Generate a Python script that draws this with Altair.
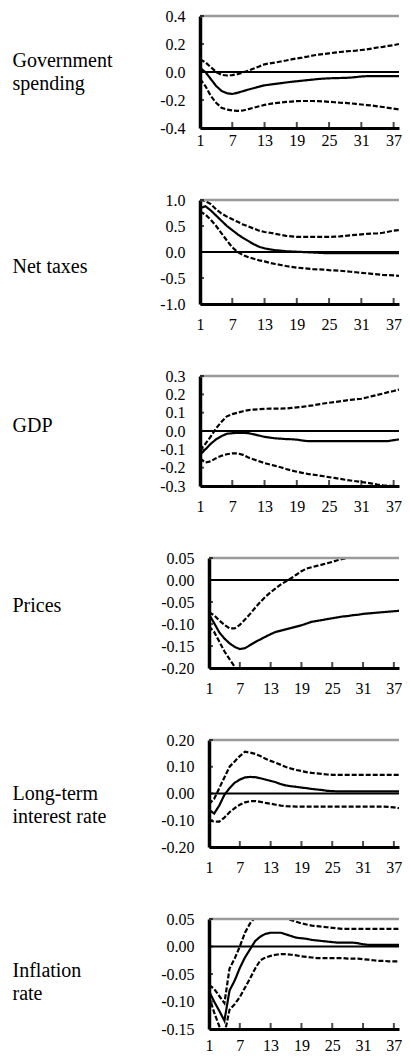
import altair as alt
import pandas as pd

FONT = "Liberation Serif, Times New Roman, Times, serif"

periods = list(range(1, 41))
x_ticks = [1, 7, 13, 19, 25, 31, 37]

# Government spending
gov_est = [0.03, 0.0, -0.05, -0.10, -0.135, -0.152, -0.157, -0.148, -0.137, -0.125,
           -0.115, -0.105, -0.095, -0.09, -0.085, -0.08, -0.075, -0.07, -0.066, -0.062,
           -0.058, -0.054, -0.05, -0.047, -0.045, -0.044, -0.043, -0.042, -0.04, -0.036,
           -0.032, -0.03, -0.03, -0.03, -0.03, -0.03, -0.03, -0.03, -0.03, -0.03]
gov_hi = [0.09, 0.07, 0.035, 0.0, -0.02, -0.025, -0.022, -0.015, -0.003, 0.01,
          0.025, 0.04, 0.055, 0.062, 0.068, 0.075, 0.082, 0.09, 0.097, 0.103,
          0.11, 0.118, 0.124, 0.128, 0.133, 0.138, 0.143, 0.147, 0.15, 0.153,
          0.157, 0.162, 0.168, 0.175, 0.18, 0.186, 0.192, 0.2, 0.21, 0.22]
gov_lo = [-0.05, -0.1, -0.17, -0.22, -0.255, -0.268, -0.275, -0.278, -0.275, -0.265,
          -0.255, -0.245, -0.235, -0.228, -0.222, -0.218, -0.214, -0.211, -0.208, -0.207,
          -0.207, -0.207, -0.208, -0.21, -0.213, -0.216, -0.219, -0.221, -0.224, -0.228,
          -0.232, -0.236, -0.24, -0.245, -0.25, -0.256, -0.262, -0.268, -0.275, -0.28]

# Net taxes
tax_est = [0.84, 0.88, 0.80, 0.70, 0.60, 0.50, 0.42, 0.34, 0.27, 0.21,
           0.15, 0.10, 0.07, 0.05, 0.035, 0.025, 0.015, 0.01, 0.005, 0.0,
           -0.005, -0.01, -0.015, -0.02, -0.02, -0.02, -0.02, -0.02, -0.02, -0.02,
           -0.02, -0.02, -0.02, -0.02, -0.02, -0.02, -0.02, -0.02, -0.02, -0.02]
tax_hi = [1.0, 0.98, 0.92, 0.82, 0.74, 0.68, 0.63, 0.58, 0.53, 0.49,
          0.45, 0.41, 0.385, 0.37, 0.35, 0.33, 0.31, 0.30, 0.29, 0.29,
          0.29, 0.29, 0.29, 0.29, 0.29, 0.295, 0.30, 0.31, 0.32, 0.33,
          0.34, 0.35, 0.355, 0.36, 0.37, 0.39, 0.41, 0.42, 0.43, 0.43]
tax_lo = [0.78, 0.72, 0.62, 0.50, 0.36, 0.22, 0.09, 0.0, -0.06, -0.10,
          -0.13, -0.16, -0.18, -0.21, -0.23, -0.25, -0.27, -0.285, -0.30, -0.31,
          -0.32, -0.33, -0.335, -0.34, -0.35, -0.355, -0.36, -0.37, -0.38, -0.39,
          -0.40, -0.41, -0.42, -0.43, -0.44, -0.445, -0.45, -0.46, -0.47, -0.48]

# GDP
gdp_est = [-0.13, -0.10, -0.07, -0.045, -0.028, -0.015, -0.012, -0.01, -0.01, -0.012,
           -0.018, -0.025, -0.032, -0.036, -0.04, -0.042, -0.044, -0.045, -0.047, -0.052,
           -0.055, -0.055, -0.055, -0.055, -0.055, -0.055, -0.055, -0.055, -0.055, -0.055,
           -0.055, -0.055, -0.055, -0.055, -0.055, -0.055, -0.05, -0.046, -0.045, -0.045]
gdp_hi = [-0.105, -0.07, -0.03, 0.015, 0.05, 0.08, 0.092, 0.1, 0.108, 0.114,
          0.117, 0.119, 0.121, 0.122, 0.122, 0.122, 0.123, 0.126, 0.129, 0.132,
          0.136, 0.14, 0.145, 0.15, 0.154, 0.158, 0.162, 0.166, 0.17, 0.173,
          0.176, 0.183, 0.19, 0.197, 0.204, 0.212, 0.218, 0.226, 0.236, 0.245]
gdp_lo = [-0.15, -0.172, -0.165, -0.148, -0.135, -0.127, -0.122, -0.122, -0.13, -0.145,
          -0.155, -0.165, -0.175, -0.183, -0.19, -0.198, -0.207, -0.215, -0.222, -0.228,
          -0.234, -0.238, -0.242, -0.247, -0.252, -0.256, -0.261, -0.266, -0.27, -0.274,
          -0.278, -0.282, -0.287, -0.292, -0.296, -0.299, -0.3, -0.3, -0.302, -0.305]

# Prices
prc_est = [-0.078, -0.098, -0.119, -0.133, -0.144, -0.152, -0.157, -0.155, -0.148, -0.141,
           -0.135, -0.129, -0.123, -0.118, -0.115, -0.112, -0.109, -0.106, -0.103, -0.099,
           -0.095, -0.093, -0.091, -0.089, -0.087, -0.085, -0.083, -0.082, -0.08, -0.079,
           -0.077, -0.076, -0.075, -0.074, -0.073, -0.072, -0.071, -0.07, -0.069, -0.069]
prc_hi = [-0.073, -0.08, -0.092, -0.102, -0.11, -0.11, -0.102, -0.09, -0.077, -0.063,
          -0.05, -0.038, -0.028, -0.019, -0.01, -0.003, 0.004, 0.012, 0.02, 0.026,
          0.029, 0.032, 0.035, 0.038, 0.041, 0.045, 0.048, 0.05, 0.051, 0.052,
          0.053, 0.054, 0.055, 0.056, 0.057, 0.058, 0.058, 0.059, 0.06, 0.06]
prc_lo = [-0.105, -0.118, -0.14, -0.162, -0.18, -0.197, -0.212, -0.222, -0.23, -0.235,
          -0.238, -0.24, -0.241, -0.242, -0.242, -0.243, -0.243, -0.244, -0.244, -0.245,
          -0.245, -0.246, -0.246, -0.247, -0.247, -0.248, -0.248, -0.249, -0.249, -0.25,
          -0.25, -0.251, -0.251, -0.252, -0.252, -0.253, -0.253, -0.254, -0.254, -0.255]

# Long-term interest rate
ltr_est = [-0.06, -0.075, -0.045, -0.005, 0.02, 0.04, 0.052, 0.06, 0.062, 0.061,
           0.057, 0.052, 0.047, 0.042, 0.035, 0.03, 0.027, 0.025, 0.022, 0.02,
           0.017, 0.015, 0.013, 0.01, 0.009, 0.008, 0.008, 0.008, 0.008, 0.008,
           0.008, 0.008, 0.008, 0.008, 0.008, 0.008, 0.008, 0.008, 0.008, 0.008]
ltr_hi = [-0.04, -0.02, 0.02, 0.06, 0.1, 0.12, 0.14, 0.156, 0.153, 0.148,
          0.14, 0.13, 0.122, 0.115, 0.107, 0.099, 0.093, 0.088, 0.084, 0.08,
          0.077, 0.075, 0.073, 0.071, 0.07, 0.07, 0.07, 0.07, 0.07, 0.07,
          0.07, 0.07, 0.07, 0.07, 0.07, 0.07, 0.07, 0.07, 0.07, 0.07]
ltr_lo = [-0.1, -0.105, -0.105, -0.09, -0.07, -0.055, -0.042, -0.033, -0.029, -0.028,
          -0.031, -0.035, -0.038, -0.042, -0.045, -0.047, -0.048, -0.049, -0.049, -0.049,
          -0.049, -0.049, -0.049, -0.049, -0.049, -0.049, -0.049, -0.049, -0.049, -0.049,
          -0.049, -0.049, -0.049, -0.049, -0.049, -0.05, -0.052, -0.055, -0.058, -0.06]

# Inflation rate
inf_est = [-0.081, -0.1, -0.117, -0.135, -0.08, -0.062, -0.039, -0.02, -0.005, 0.01,
           0.018, 0.023, 0.025, 0.025, 0.025, 0.022, 0.019, 0.016, 0.015, 0.014,
           0.012, 0.011, 0.01, 0.009, 0.008, 0.007, 0.007, 0.007, 0.007, 0.006,
           0.004, 0.003, 0.003, 0.003, 0.003, 0.003, 0.003, 0.003, 0.003, 0.003]
inf_hi = [-0.07, -0.077, -0.09, -0.103, -0.04, -0.022, 0.0, 0.025, 0.042, 0.053,
          0.058, 0.062, 0.064, 0.062, 0.058, 0.052, 0.048, 0.045, 0.042, 0.04,
          0.038, 0.037, 0.036, 0.035, 0.034, 0.033, 0.032, 0.032, 0.032, 0.032,
          0.032, 0.032, 0.032, 0.032, 0.032, 0.032, 0.032, 0.032, 0.032, 0.032]
inf_lo = [-0.09, -0.12, -0.145, -0.16, -0.115, -0.105, -0.092, -0.075, -0.058, -0.04,
          -0.025, -0.02, -0.017, -0.015, -0.014, -0.014, -0.015, -0.016, -0.018, -0.019,
          -0.02, -0.021, -0.021, -0.021, -0.021, -0.021, -0.021, -0.022, -0.022, -0.022,
          -0.023, -0.024, -0.025, -0.026, -0.026, -0.027, -0.027, -0.027, -0.028, -0.028]

labels = [["Government", "spending"], "Net taxes", "GDP", "Prices",
          ["Long-term", "interest rate"], ["Inflation", "rate"]]
series = [(gov_est, gov_lo, gov_hi), (tax_est, tax_lo, tax_hi), (gdp_est, gdp_lo, gdp_hi),
          (prc_est, prc_lo, prc_hi), (ltr_est, ltr_lo, ltr_hi), (inf_est, inf_lo, inf_hi)]
y_ticks = [[-0.4, -0.2, 0.0, 0.2, 0.4],
           [-1.0, -0.5, 0.0, 0.5, 1.0],
           [-0.3, -0.2, -0.1, 0.0, 0.1, 0.2, 0.3],
           [-0.20, -0.15, -0.10, -0.05, 0.0, 0.05],
           [-0.20, -0.10, 0.0, 0.10, 0.20],
           [-0.15, -0.10, -0.05, 0.0, 0.05]]
y_formats = [".1f", ".1f", ".1f", ".2f", ".2f", ".2f"]

# layout settings per panel
heights = [112, 104, 110, 110, 107, 110]
title_ys = [44, 66.7, 49, 47, 53, 51]
shifts = [0, 0, 0, 9, 9, 9]
x_pads = [4, 12, 12, 12, 12, 8]
X_MAX = 38
W = 199


def make_panel(i):
    est, lo, hi = series[i]
    yt = y_ticks[i]
    ymin, ymax = yt[0], yt[-1]
    shift = shifts[i]
    n = len(periods)
    df = pd.DataFrame({
        "period": periods * 3,
        "value": est + lo + hi,
        "series": ["est"] * n + ["lo"] * n + ["hi"] * n,
    })
    df = df[df.period <= X_MAX]
    xs = alt.Scale(domain=[1, X_MAX], range=[shift, W], nice=False, zero=False)
    ys = alt.Scale(domain=[ymin, ymax], nice=False, zero=False)
    fmt = y_formats[i]
    y_axis = alt.Axis(
        values=yt,
        labelExpr=f"(datum.value < 0 ? '-' : '') + format(abs(datum.value), '{fmt}')",
        title=labels[i], titleAngle=0, titleAlign="left", titleBaseline="middle",
        titleX=-188 - shift, titleY=title_ys[i], titleFont=FONT, titleFontSize=20,
        titleFontWeight="normal", titleColor="black", titleLineHeight=23,
        labelFont=FONT, labelFontSize=16, labelColor="black", labelPadding=15,
        labelOverlap=False, ticks=False, grid=False, domainColor="black",
        domainWidth=3.5, offset=-shift,
    )
    x_axis = alt.Axis(
        values=x_ticks, format="d", title=None, labelFont=FONT, labelFontSize=16,
        labelColor="black", labelPadding=x_pads[i], labelFlush=False, labelOverlap=False,
        ticks=False, grid=False, domainColor="black", domainWidth=3,
    )
    lines = alt.Chart(df).mark_line(color="black", strokeWidth=2.2, clip=True).encode(
        x=alt.X("period:Q", scale=xs, axis=x_axis),
        y=alt.Y("value:Q", scale=ys, axis=y_axis),
        strokeDash=alt.StrokeDash(
            "series:N",
            scale=alt.Scale(domain=["est", "lo", "hi"], range=[[1, 0], [5, 2], [5, 2]]),
            legend=None,
        ),
    )
    edge = pd.DataFrame({"period": [1, 1], "x2": [X_MAX, X_MAX], "value": [0.0, ymax],
                         "kind": ["zero", "top"]})
    zero_rule = alt.Chart(edge[edge.kind == "zero"]).mark_rule(
        color="black", strokeWidth=2).encode(
        x=alt.X("period:Q", scale=xs, axis=x_axis), x2="x2:Q",
        y=alt.Y("value:Q", scale=ys, axis=y_axis))
    top_rule = alt.Chart(edge[edge.kind == "top"]).mark_rule(
        color="#9a9a9a", strokeWidth=2.5).encode(
        x=alt.X("period:Q", scale=xs, axis=x_axis), x2="x2:Q",
        y=alt.Y("value:Q", scale=ys, axis=y_axis))
    xt_df = pd.DataFrame({"period": x_ticks, "value": [ymin] * len(x_ticks)})
    x_tick_marks = alt.Chart(xt_df).mark_tick(
        orient="vertical", size=6, thickness=2, yOffset=-3, color="black").encode(
        x=alt.X("period:Q", scale=xs, axis=x_axis), y=alt.Y("value:Q", scale=ys, axis=y_axis))
    yt_df = pd.DataFrame({"period": [1] * len(yt), "value": yt})
    y_tick_marks = alt.Chart(yt_df).mark_tick(
        orient="horizontal", size=4, thickness=2, xOffset=2, color="black").encode(
        x=alt.X("period:Q", scale=xs, axis=x_axis), y=alt.Y("value:Q", scale=ys, axis=y_axis))
    return alt.layer(lines, top_rule, zero_rule, x_tick_marks, y_tick_marks).properties(
        width=W, height=heights[i])


chart = alt.vconcat(*[make_panel(i) for i in range(6)], spacing=72, bounds="flush").properties(
    padding={"left": 4, "top": 0, "right": 0, "bottom": 0}
).configure_view(stroke=None)

chart.save("out.html", embed_options={"renderer": "svg", "actions": False})
